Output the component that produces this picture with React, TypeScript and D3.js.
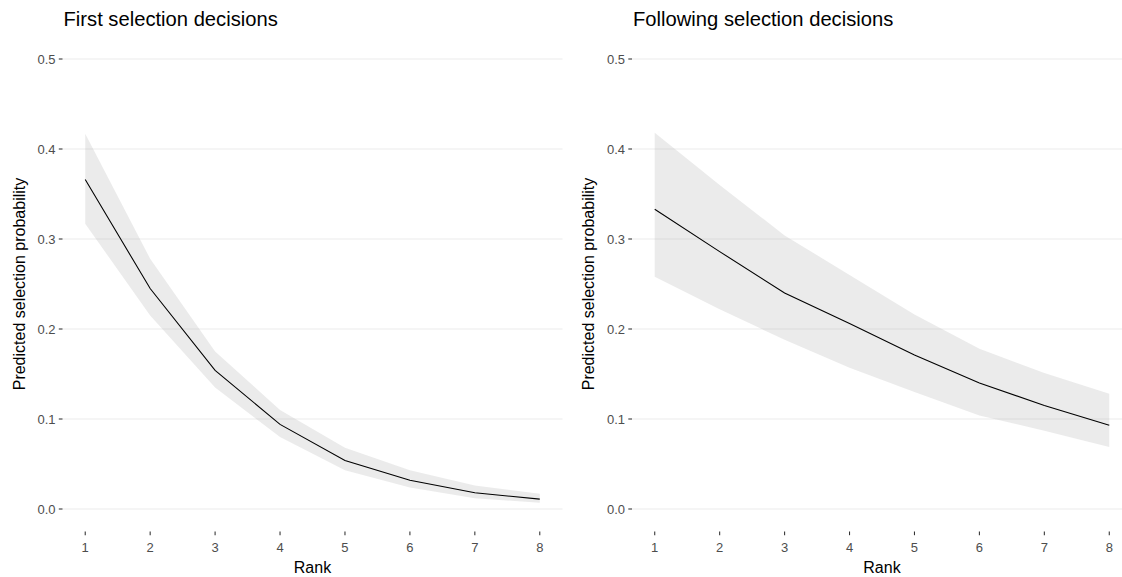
import React from "react";
import * as d3 from "d3";

const ranks = [1, 2, 3, 4, 5, 6, 7, 8];
const yTicks = [0, 0.1, 0.2, 0.3, 0.4, 0.5];
const yTickLabels = ["0.0", "0.1", "0.2", "0.3", "0.4", "0.5"];

const firstFit = [0.366, 0.245, 0.154, 0.094, 0.054, 0.032, 0.018, 0.011];
const firstUpper = [0.417, 0.278, 0.175, 0.11, 0.068, 0.043, 0.026, 0.017];
const firstLower = [0.317, 0.215, 0.135, 0.08, 0.043, 0.024, 0.012, 0.007];

const followFit = [0.333, 0.286, 0.24, 0.206, 0.171, 0.14, 0.115, 0.093];
const followUpper = [0.418, 0.36, 0.304, 0.26, 0.216, 0.178, 0.151, 0.128];
const followLower = [0.258, 0.222, 0.188, 0.157, 0.13, 0.104, 0.087, 0.069];

const titles = ["First selection decisions", "Following selection decisions"];
const xTitle = "Rank";
const yTitle = "Predicted selection probability";

const FONT = "'Liberation Sans', Arial, Helvetica, sans-serif";

type PanelProps = {
  x0: number;
  title: string;
  fit: number[];
  upper: number[];
  lower: number[];
  id: string;
};

const PANEL_W = 500;
const TOP = 36.5;
const BOTTOM = 531.5;

function Panel({ x0, title, fit, upper, lower, id }: PanelProps) {
  const x = d3.scaleLinear().domain([0.65, 8.35]).range([x0, x0 + PANEL_W]);
  const y = d3.scaleLinear().domain([-0.025, 0.525]).range([BOTTOM, TOP]);
  const area = d3
    .area<number>()
    .x((_, i) => x(ranks[i]))
    .y0((_, i) => y(lower[i]))
    .y1((_, i) => y(upper[i]));
  const line = d3
    .line<number>()
    .x((_, i) => x(ranks[i]))
    .y((d) => y(d));
  const cy = (TOP + BOTTOM) / 2;
  const cx = x0 + PANEL_W / 2;
  return (
    <g>
      <text x={x0 + 1} y={25.5} fontFamily={FONT} fontSize={20.2} fill="#000">
        {title}
      </text>
      {yTicks.map((t, i) => (
        <g key={"g" + i}>
          <line
            x1={x0}
            x2={x0 + PANEL_W}
            y1={y(t)}
            y2={y(t)}
            stroke="#ebebeb"
            strokeWidth={1.07}
          />
          <line
            x1={x0 - 3.7}
            x2={x0}
            y1={y(t)}
            y2={y(t)}
            stroke="#333333"
            strokeWidth={1.07}
          />
          <text
            x={x0 - 7}
            y={y(t)}
            dy="0.35em"
            textAnchor="end"
            fontFamily={FONT}
            fontSize={13}
            fill="#4d4d4d"
          >
            {yTickLabels[i]}
          </text>
        </g>
      ))}
      <path d={area(fit) || ""} fill="#999999" fillOpacity={0.2} />
      <path d={line(fit) || ""} fill="none" stroke="#000" strokeWidth={1.07} />
      {ranks.map((r) => (
        <g key={"x" + r}>
          <line
            x1={x(r)}
            x2={x(r)}
            y1={BOTTOM}
            y2={BOTTOM + 3.7}
            stroke="#333333"
            strokeWidth={1.07}
          />
          <text
            x={x(r)}
            y={552}
            textAnchor="middle"
            fontFamily={FONT}
            fontSize={13}
            fill="#4d4d4d"
          >
            {r}
          </text>
        </g>
      ))}
      <text
        x={cx}
        y={573}
        textAnchor="middle"
        fontFamily={FONT}
        fontSize={16}
        fill="#000"
      >
        {xTitle}
      </text>
      <text
        transform={`translate(${x0 - 38},${cy}) rotate(-90)`}
        textAnchor="middle"
        fontFamily={FONT}
        fontSize={16}
        fill="#000"
      >
        {yTitle}
      </text>
    </g>
  );
}

export default function App() {
  return (
    <svg
      width={1122}
      height={577}
      style={{ position: "absolute", left: 0, top: 0, background: "#fff" }}
    >
      <rect x={0} y={0} width={1122} height={577} fill="#fff" />
      <Panel
        id="a"
        x0={62.5}
        title={titles[0]}
        fit={firstFit}
        upper={firstUpper}
        lower={firstLower}
      />
      <Panel
        id="b"
        x0={632}
        title={titles[1]}
        fit={followFit}
        upper={followUpper}
        lower={followLower}
      />
    </svg>
  );
}
